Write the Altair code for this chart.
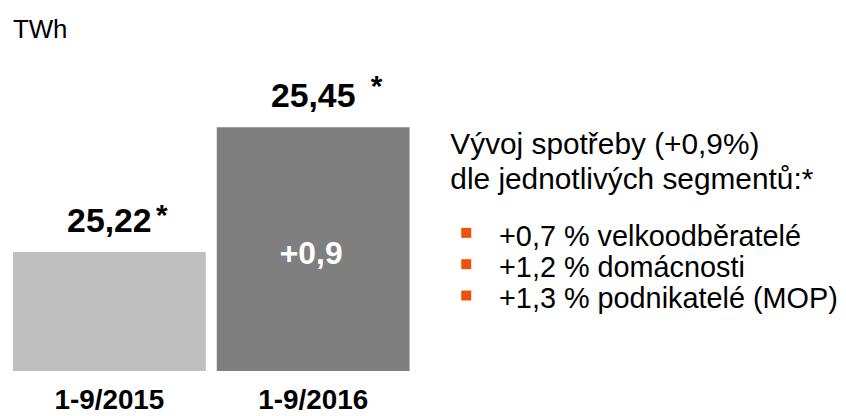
import altair as alt
import pandas as pd

# ---- data ----
categories = ["1-9/2015", "1-9/2016"]
values = [25.22, 25.45]
value_labels = ["25,22", "25,45"]
inner_labels = ["", "+0,9"]
bar_colors = ["#BFBFBF", "#7F7F7F"]

unit_text = "TWh"
heading_lines = ["Vývoj spotřeby (+0,9%)", "dle jednotlivých segmentů:*"]
bullet_items = ["+0,7 % velkoodběratelé", "+1,2 % domácnosti", "+1,3 % podnikatelé (MOP)"]

FONT = "Liberation Sans"
ORANGE = "#F0500A"

df = pd.DataFrame({
    "cat": categories,
    "value": values,
    "label": value_labels,
    "inner": inner_labels,
    "color": bar_colors,
})

x_enc = alt.X(
    "cat:N",
    sort=categories,
    scale=alt.Scale(range=[5, 404], paddingInner=0.054, paddingOuter=0),
    axis=alt.Axis(
        title=None, domain=False, ticks=False, labelAngle=0,
        labelFontSize=28, labelFontWeight="bold", labelColor="black",
        labelFont=FONT, labelPadding=16,
    ),
)
y_scale = alt.Scale(domain=[25.0, 25.668], zero=False, nice=False)
y_enc = alt.Y("value:Q", scale=y_scale, axis=None)

base = alt.Chart(df)

bars = base.mark_bar(cornerRadius=0).encode(
    x=x_enc,
    y=y_enc,
    y2=alt.datum(25.0),
    color=alt.Color("color:N", scale=None),
)

value_text = base.mark_text(
    font=FONT, fontSize=34, fontWeight="bold", color="black",
    baseline="alphabetic", align="center", dy=-20,
).encode(x=x_enc, y=y_enc, text="label:N")

ast_2015 = base.transform_filter(alt.datum.cat == categories[0]).mark_text(
    font=FONT, fontSize=30, fontWeight="bold", color="black",
    baseline="alphabetic", align="left", dx=47, dy=-27,
).encode(x=x_enc, y=y_enc, text=alt.value("*"))

ast_2016 = base.transform_filter(alt.datum.cat == categories[1]).mark_text(
    font=FONT, fontSize=30, fontWeight="bold", color="black",
    baseline="alphabetic", align="left", dx=58, dy=-31,
).encode(x=x_enc, y=y_enc, text=alt.value("*"))

inner_text = base.transform_filter(alt.datum.inner != "").transform_calculate(
    mid="(25.0 + datum.value) / 2"
).mark_text(
    font=FONT, fontSize=32, fontWeight="bold", color="white",
    baseline="alphabetic", align="center", dx=-2, dy=15,
).encode(
    x=x_enc,
    y=alt.Y("mid:Q", scale=y_scale, axis=None),
    text="inner:N",
)

bars_layer = alt.layer(bars, value_text, ast_2015, ast_2016, inner_text)

# ---- annotations ----
ann = pd.DataFrame({"t": [unit_text]})
twh = alt.Chart(ann).mark_text(
    font=FONT, fontSize=26, color="black", align="left", baseline="alphabetic",
).encode(x=alt.value(5), y=alt.value(29), text="t:N")

heading_layers = []
for i, line in enumerate(heading_lines):
    heading_layers.append(
        alt.Chart(pd.DataFrame({"t": [line]})).mark_text(
            font=FONT, fontSize=30, color="black", align="left", baseline="alphabetic",
        ).encode(x=alt.value(445), y=alt.value(146 + 35 * i), text="t:N")
    )

bullet_layers = []
for i, item in enumerate(bullet_items):
    yb = 238 + 31.5 * i
    bullet_layers.append(
        alt.Chart(pd.DataFrame({"t": [item]})).mark_text(
            font=FONT, fontSize=29, color="black", align="left", baseline="alphabetic",
        ).encode(x=alt.value(494), y=alt.value(yb), text="t:N")
    )
    bullet_layers.append(
        alt.Chart(pd.DataFrame({"t": [item]})).mark_square(
            size=100, color=ORANGE, opacity=1, filled=True,
        ).encode(x=alt.value(461), y=alt.value(yb - 13))
    )

chart = alt.layer(bars_layer, twh, *heading_layers, *bullet_layers).properties(
    width=830, height=364, padding=0,
).configure(font=FONT, background="white").configure_view(stroke=None)

chart.save("out.html", embed_options={"renderer": "svg", "actions": False})
